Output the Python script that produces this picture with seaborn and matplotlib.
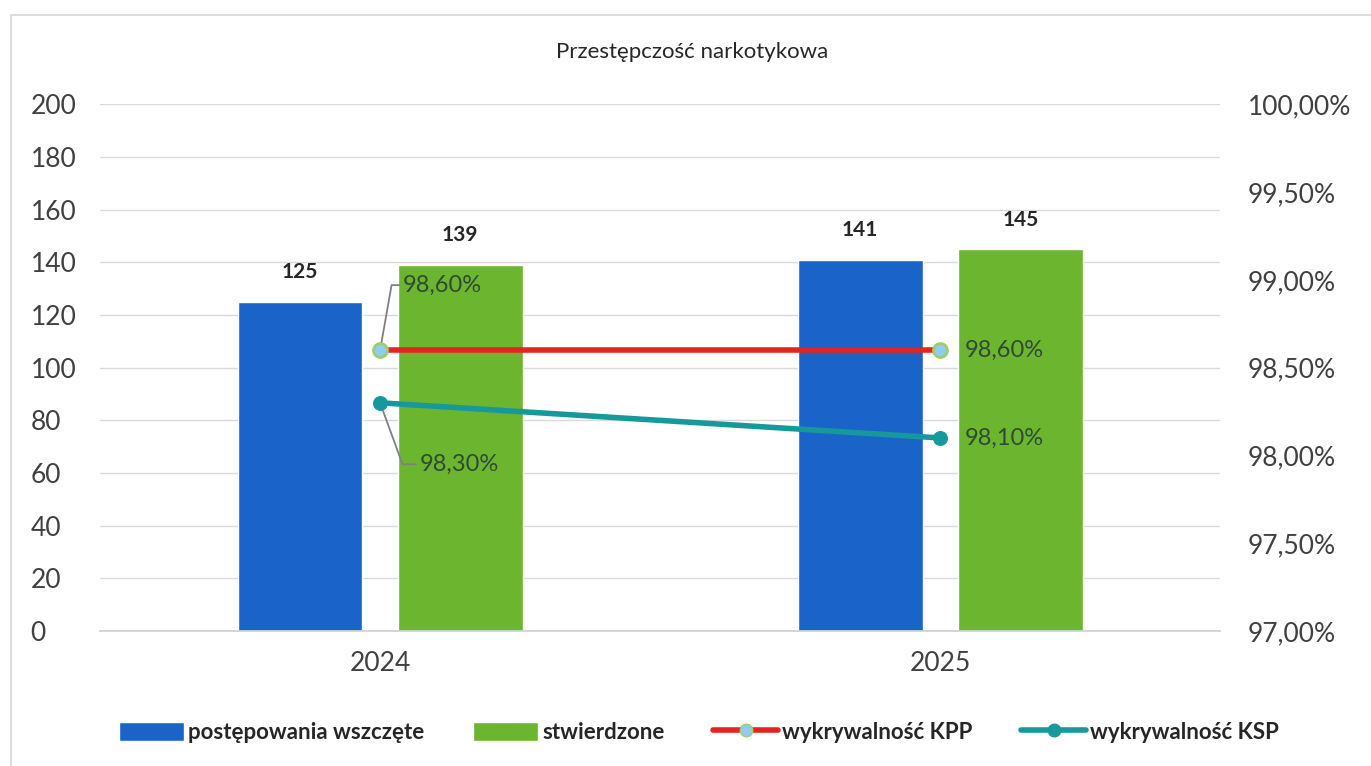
import pandas as pd
import seaborn as sns
import matplotlib.pyplot as plt
from matplotlib.lines import Line2D
from matplotlib.patches import Patch, Rectangle

years = ['2024', '2025']
wszczete = [125, 141]
stwierdzone = [139, 145]
kpp = [98.6, 98.6]
ksp = [98.3, 98.1]

sns.set_theme(style='white')
plt.rcParams['font.family'] = ['Lato', 'DejaVu Sans']

blue = '#1a63c9'
green = '#6cb52f'
red = '#e5231f'
teal = '#16999a'

df = pd.DataFrame({
    'rok': years * 2,
    'wartosc': wszczete + stwierdzone,
    'seria': ['postępowania wszczęte'] * 2 + ['stwierdzone'] * 2,
})

fig = plt.figure(figsize=(13.71, 7.66), dpi=100)
ax = fig.add_axes([0.073, 0.176, 0.817, 0.688])
fig.patches.append(Rectangle((0.008, -0.01), 1.0, 0.99, transform=fig.transFigure,
                             fill=False, edgecolor='#d6d6d6', linewidth=1.2))

sns.barplot(data=df, x='rok', y='wartosc', hue='seria', palette=[blue, green],
            width=0.572, gap=0.22, ax=ax, legend=False, saturation=1)
ax.set_xlim(-0.5, 1.5)
ax.set_ylim(0, 200)
ax.set_yticks(range(0, 201, 20))
ax.grid(axis='y', color='#d9d9d9', linewidth=1)
ax.set_axisbelow(True)
for s in ax.spines.values():
    s.set_visible(False)
ax.spines['bottom'].set_visible(True)
ax.spines['bottom'].set_color('#d0d0d0')
ax.set_xlabel('')
ax.set_ylabel('')
ax.tick_params(axis='y', labelsize=19, colors='#404040', pad=50, length=0)
ax.tick_params(axis='x', labelsize=19, colors='#404040', pad=14, length=0)
for lbl in ax.get_yticklabels():
    lbl.set_horizontalalignment('left')

for cont in ax.containers:
    ax.bar_label(cont, padding=14, fontsize=15, fontweight='bold', color='#262626')

ax2 = ax.twinx()
ax2.set_ylim(97, 100)
ax2.set_yticks([97, 97.5, 98, 98.5, 99, 99.5, 100])
ax2.set_yticklabels(['97,00%', '97,50%', '98,00%', '98,50%', '99,00%', '99,50%', '100,00%'])
ax2.tick_params(axis='y', labelsize=19, colors='#404040', pad=20, length=0)
for s in ax2.spines.values():
    s.set_visible(False)
ax2.grid(False)

xs = [0, 1]
sns.lineplot(x=xs, y=kpp, ax=ax2, color=red, linewidth=4, marker='o', markersize=10,
             markerfacecolor='#8fcdf0', markeredgecolor='#9ccf6a', markeredgewidth=2)
sns.lineplot(x=xs, y=ksp, ax=ax2, color=teal, linewidth=4, marker='o', markersize=10,
             markerfacecolor=teal, markeredgecolor=teal)

lab_col = '#2f4a34'
ax2.annotate('98,60%', xy=(0, kpp[0]), xytext=(0.04, 98.97), fontsize=17, color=lab_col,
             va='center', ha='left',
             arrowprops=dict(arrowstyle='-', color='#808080', lw=1.3, shrinkA=0, shrinkB=6,
                             connectionstyle='angle,angleA=0,angleB=80,rad=0'))
ax2.annotate('98,30%', xy=(0, ksp[0]), xytext=(0.07, 97.95), fontsize=17, color=lab_col,
             va='center', ha='left',
             arrowprops=dict(arrowstyle='-', color='#808080', lw=1.3, shrinkA=0, shrinkB=6,
                             connectionstyle='angle,angleA=0,angleB=-70,rad=0'))
ax2.annotate('98,60%', xy=(1, kpp[1]), xytext=(18, 0), textcoords='offset points',
             fontsize=17, color=lab_col, va='center', ha='left')
ax2.annotate('98,10%', xy=(1, ksp[1]), xytext=(18, 0), textcoords='offset points',
             fontsize=17, color=lab_col, va='center', ha='left')

fig.text(0.505, 0.932, 'Przestępczość narkotykowa', ha='center', va='center',
         fontsize=16, color='#262626')

handles = [
    Patch(facecolor=blue, label='postępowania wszczęte'),
    Patch(facecolor=green, label='stwierdzone'),
    Line2D([0], [0], color=red, lw=4, marker='o', markersize=9, markerfacecolor='#8fcdf0',
           markeredgecolor='#9ccf6a', label='wykrywalność KPP'),
    Line2D([0], [0], color=teal, lw=4, marker='o', markersize=9, markerfacecolor=teal,
           markeredgecolor=teal, label='wykrywalność KSP'),
]
fig.legend(handles=handles, loc='center', bbox_to_anchor=(0.51, 0.044), ncol=4,
           frameon=False, prop={'size': 16, 'weight': 'bold'}, handlelength=2.9,
           handleheight=1.0, handletextpad=0.2, columnspacing=2.2)

fig.savefig('out.png', dpi=100)
